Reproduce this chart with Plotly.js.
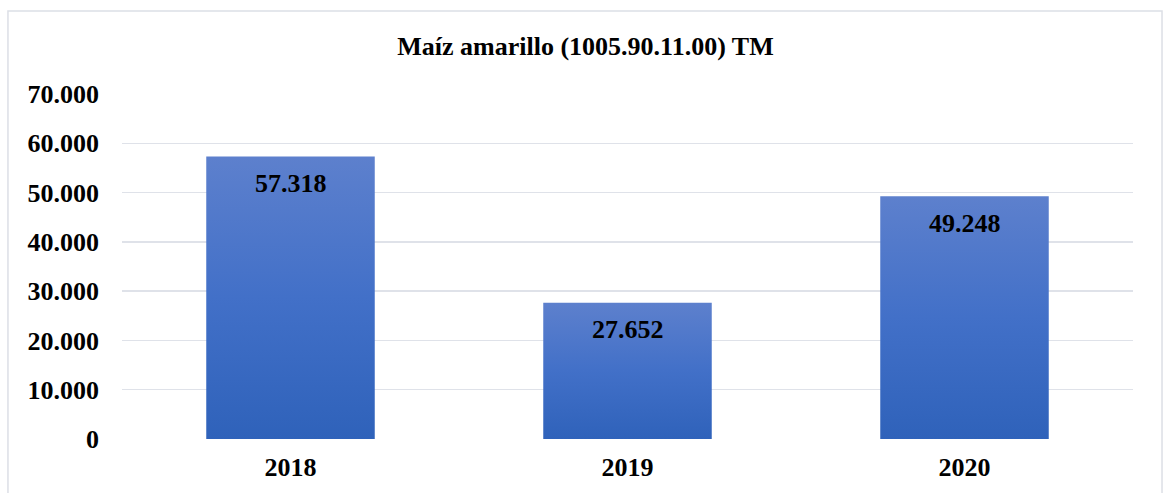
<!DOCTYPE html>
<html>
<head>
<meta charset="utf-8">
<script src="https://cdn.plot.ly/plotly-3.0.1.min.js"></script>
<style>html,body{margin:0;padding:0;background:#fff;}#chart{width:1164px;height:493px;}</style>
</head>
<body>
<div id="chart"></div>
<script>
const categories = ["2018", "2019", "2020"];
const values = [57318, 27652, 49248];
const labels = ["57.318", "27.652", "49.248"];
const yTickVals = [0, 10000, 20000, 30000, 40000, 50000, 60000, 70000];
const yTickText = ["0", "10.000", "20.000", "30.000", "40.000", "50.000", "60.000", "70.000"];

const serif = "'Liberation Serif', 'Times New Roman', serif";

const trace = {
  type: "bar",
  x: categories,
  y: values,
  marker: {color: "#4470c8", line: {width: 0}},
  hoverinfo: "none"
};

// On a category axis, an annotation's numeric x is the category index.
const annotations = categories.map(function(c, i) {
  return {
    x: i, y: values[i], xref: "x", yref: "y",
    text: "<b>" + labels[i] + "</b>",
    showarrow: false,
    xanchor: "center",
    yanchor: "middle",
    yshift: -27,
    font: {family: serif, size: 26, color: "#000"}
  };
});

const layout = {
  width: 1164,
  height: 493,
  margin: {l: 122, r: 31, t: 94, b: 54},
  paper_bgcolor: "#fff",
  plot_bgcolor: "#fff",
  bargap: 0.5,
  showlegend: false,
  title: {
    text: "<b>Maíz amarillo (1005.90.11.00) TM</b>",
    font: {family: serif, size: 26, color: "#000"},
    xref: "container", x: 0.503, xanchor: "center",
    yref: "container", y: 0.907, yanchor: "middle"
  },
  xaxis: {
    type: "category",
    range: [-0.5, categories.length - 0.5],
    autorange: false,
    showgrid: false,
    showline: false,
    zeroline: false,
    ticks: "",
    ticklabelstandoff: 10,
    tickfont: {family: serif, size: 26, color: "#000", weight: "bold"}
  },
  yaxis: {
    range: [0, 70000],
    autorange: false,
    tickvals: yTickVals,
    ticktext: yTickText,
    showgrid: true,
    gridcolor: "#dfe2e9",
    gridwidth: 1.5,
    zeroline: false,
    showline: false,
    ticks: "",
    ticklabelstandoff: 22,
    tickfont: {family: serif, size: 26, color: "#000", weight: "bold"}
  },
  annotations: annotations,
  shapes: [{
    type: "rect",
    xref: "paper", yref: "paper",
    x0: -0.1128, x1: 1.0287, y0: -0.3, y1: 1.2406,
    line: {color: "#dcdfe6", width: 1.5},
    fillcolor: "rgba(0,0,0,0)",
    layer: "below"
  }]
};

Plotly.newPlot("chart", [trace], layout, {displayModeBar: false, staticPlot: true}).then(function(gd) {
  const svg = gd.querySelector("svg.main-svg");
  const ns = "http://www.w3.org/2000/svg";
  let defs = svg.querySelector("defs");
  if (!defs) { defs = document.createElementNS(ns, "defs"); svg.insertBefore(defs, svg.firstChild); }
  const grad = document.createElementNS(ns, "linearGradient");
  grad.setAttribute("id", "barGrad");
  grad.setAttribute("x1", "0"); grad.setAttribute("y1", "0");
  grad.setAttribute("x2", "0"); grad.setAttribute("y2", "1");
  const s1 = document.createElementNS(ns, "stop");
  s1.setAttribute("offset", "0"); s1.setAttribute("stop-color", "#5d80cd");
  const s2 = document.createElementNS(ns, "stop");
  s2.setAttribute("offset", "0.5"); s2.setAttribute("stop-color", "#4270c8");
  const s3 = document.createElementNS(ns, "stop");
  s3.setAttribute("offset", "1"); s3.setAttribute("stop-color", "#2f62ba");
  grad.appendChild(s1); grad.appendChild(s2); grad.appendChild(s3);
  defs.appendChild(grad);
  gd.querySelectorAll(".bars .point path").forEach(function(p) {
    p.style.fill = "url(#barGrad)";
  });
});
</script>
</body>
</html>
